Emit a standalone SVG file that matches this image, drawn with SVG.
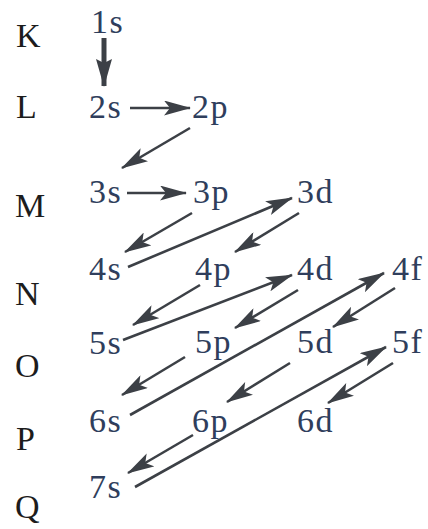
<svg xmlns="http://www.w3.org/2000/svg" width="428" height="529" viewBox="0 0 428 529">
<style>
text{font-family:'Liberation Serif','Times New Roman',serif}
.lv{font-size:34px;fill:#1c1c1c}
.ob{font-size:34px;fill:#2f3e5c;letter-spacing:1.5px}
.ar{stroke:#3c4046;stroke-width:2.6;fill:none;marker-end:url(#h)}
.ar2{stroke:#3c4046;stroke-width:5;fill:none;marker-end:url(#hv)}
</style>
<defs>
<marker id="h" markerUnits="userSpaceOnUse" viewBox="0 0 27 15" markerWidth="27" markerHeight="15" refX="26" refY="7.5" orient="auto">
<path d="M27,7.5 L0,0 L6,7.5 L0,15 Z" fill="#3c4046"/>
</marker>
<marker id="hv" markerUnits="userSpaceOnUse" viewBox="0 0 28 16" markerWidth="28" markerHeight="16" refX="27" refY="8" orient="auto">
<path d="M28,8 L0,0 L4,8 L0,16 Z" fill="#3c4046"/>
</marker>
</defs>
<rect width="428" height="529" fill="#fff"/>
<g id="levels">
<text class="lv" x="16" y="47">K</text>
<text class="lv" x="16" y="118">L</text>
<text class="lv" x="15" y="217">M</text>
<text class="lv" x="15" y="305">N</text>
<text class="lv" x="15" y="377">O</text>
<text class="lv" x="16" y="450">P</text>
<text class="lv" x="15" y="518">Q</text>
</g>
<g id="n1s"><text class="ob" x="91" y="33">1s</text></g>
<g id="n2s"><text class="ob" x="89" y="118">2s</text></g>
<g id="n2p"><text class="ob" x="192" y="118">2p</text></g>
<g id="n3s"><text class="ob" x="89" y="203">3s</text></g>
<g id="n3p"><text class="ob" x="193" y="203">3p</text></g>
<g id="n3d"><text class="ob" x="297" y="203">3d</text></g>
<g id="n4s"><text class="ob" x="89" y="280">4s</text></g>
<g id="n4p"><text class="ob" x="195" y="280">4p</text></g>
<g id="n4d"><text class="ob" x="297" y="280">4d</text></g>
<g id="n4f"><text class="ob" x="392" y="280">4f</text></g>
<g id="n5s"><text class="ob" x="89" y="354">5s</text></g>
<g id="n5p"><text class="ob" x="195" y="353">5p</text></g>
<g id="n5d"><text class="ob" x="297" y="353">5d</text></g>
<g id="n5f"><text class="ob" x="392" y="353">5f</text></g>
<g id="n6s"><text class="ob" x="89" y="432">6s</text></g>
<g id="n6p"><text class="ob" x="192" y="432">6p</text></g>
<g id="n6d"><text class="ob" x="297" y="432">6d</text></g>
<g id="n7s"><text class="ob" x="89" y="498">7s</text></g>
<g id="connectors">
<line class="ar2" x1="104" y1="38" x2="104" y2="86"/>
<line class="ar" x1="130" y1="108" x2="190" y2="108"/>
<line class="ar" x1="190" y1="128" x2="122" y2="168"/>
<line class="ar" x1="127" y1="193" x2="186" y2="193"/>
<line class="ar" x1="192" y1="213" x2="125" y2="252"/>
<line class="ar" x1="128" y1="267" x2="292" y2="198"/>
<line class="ar" x1="299" y1="213" x2="235" y2="252"/>
<line class="ar" x1="200" y1="285" x2="133" y2="325"/>
<line class="ar" x1="123" y1="340" x2="292" y2="275"/>
<line class="ar" x1="298" y1="290" x2="235" y2="328"/>
<line class="ar" x1="130" y1="415" x2="384" y2="273"/>
<line class="ar" x1="395" y1="288" x2="333" y2="327"/>
<line class="ar" x1="290" y1="363" x2="227" y2="402"/>
<line class="ar" x1="185" y1="357" x2="122" y2="395"/>
<line class="ar" x1="193" y1="435" x2="128" y2="473"/>
<line class="ar" x1="135" y1="487" x2="386" y2="347"/>
<line class="ar" x1="393" y1="363" x2="328" y2="403"/>
</g>
</svg>
